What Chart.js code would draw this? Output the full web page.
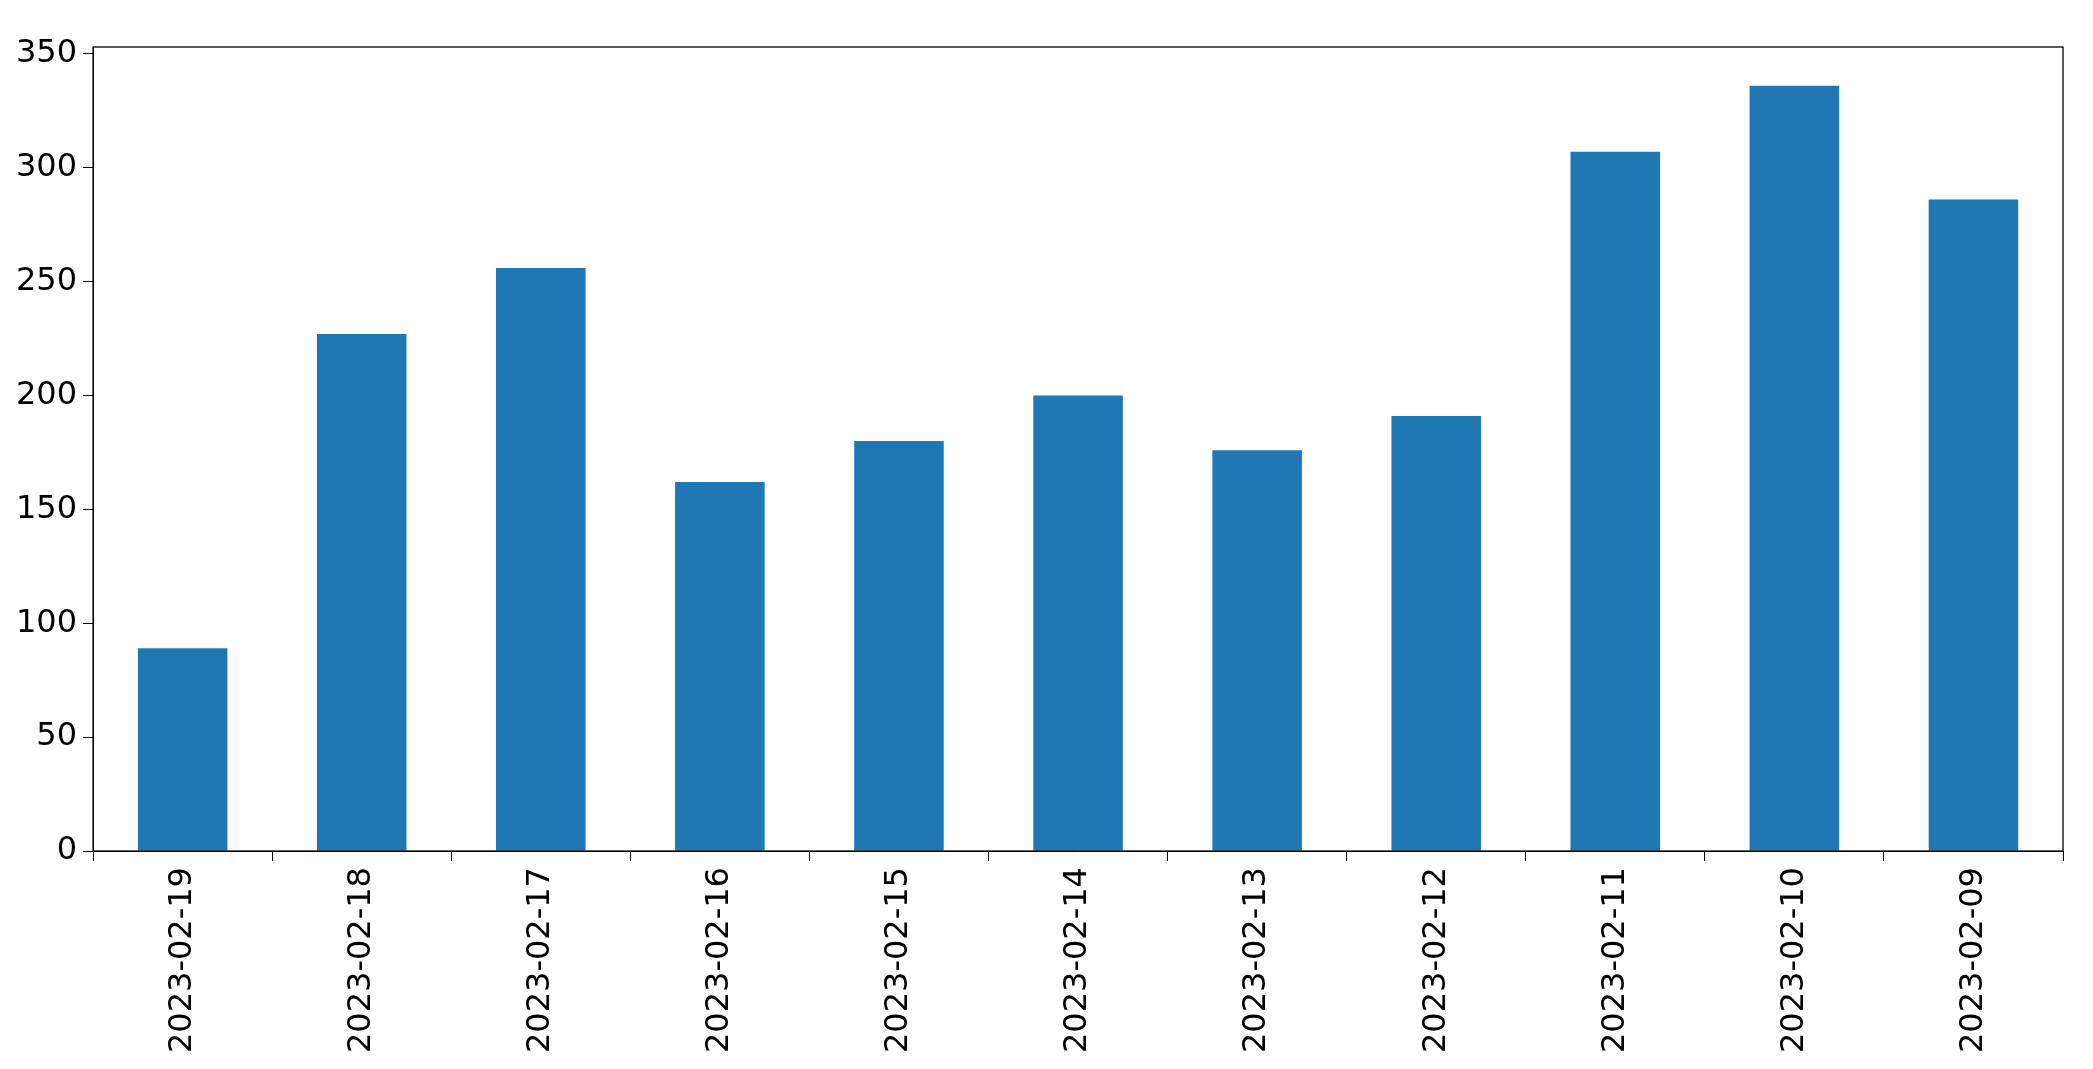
<!DOCTYPE html>
<html>
<head>
<meta charset="utf-8">
<script src="https://cdn.jsdelivr.net/npm/chart.js@4"></script>
<style>
  html, body { margin: 0; padding: 0; background: #fff; }
  #wrap { width: 2093px; height: 1069px; }
</style>
</head>
<body>
<div id="wrap"><canvas id="c"></canvas></div>
<script>
// Valores
const categories = ["2023-02-19", "2023-02-18", "2023-02-17", "2023-02-16", "2023-02-15", "2023-02-14",
  "2023-02-13", "2023-02-12", "2023-02-11", "2023-02-10", "2023-02-09"];
const values = [89, 227, 256, 162, 180, 200, 176, 191, 307, 336, 286];
const yTicks = [0, 50, 100, 150, 200, 250, 300, 350];

// Marco completo alrededor del área del gráfico (estilo matplotlib)
const frame = {
  id: "frame",
  afterDraw(chart) {
    const { ctx, chartArea: a } = chart;
    ctx.save();
    ctx.strokeStyle = "#000"; ctx.lineWidth = 1.3;
    ctx.strokeRect(a.left, a.top, a.right - a.left, a.bottom - a.top);
    ctx.restore();
  },
};

const font = { family: "DejaVu Sans", size: 32 };
new Chart(document.getElementById("c"), {
  type: "bar",
  data: { labels: categories, datasets: [{ data: values, backgroundColor: "#1f77b4",
    categoryPercentage: 1, barPercentage: 0.5 }] },
  options: {
    responsive: true, maintainAspectRatio: false, animation: false,
    layout: { padding: { top: 47, right: 30, left: 10, bottom: 10 } },
    plugins: { legend: { display: false }, tooltip: { enabled: false } },
    scales: {
      x: {
        grid: { display: true, drawOnChartArea: false, color: "#000", tickLength: 10 },
        border: { color: "#000" },
        ticks: { color: "#000", font, maxRotation: 90, minRotation: 90, padding: 6 },
      },
      y: {
        min: 0, max: 353,
        afterBuildTicks: (s) => { s.ticks = yTicks.map((v) => ({ value: v })); },
        grid: { display: true, drawOnChartArea: false, color: "#000", tickLength: 10 },
        border: { color: "#000" },
        ticks: { color: "#000", font, padding: 6 },
      },
    },
  },
  plugins: [frame],
});
</script>
</body>
</html>
